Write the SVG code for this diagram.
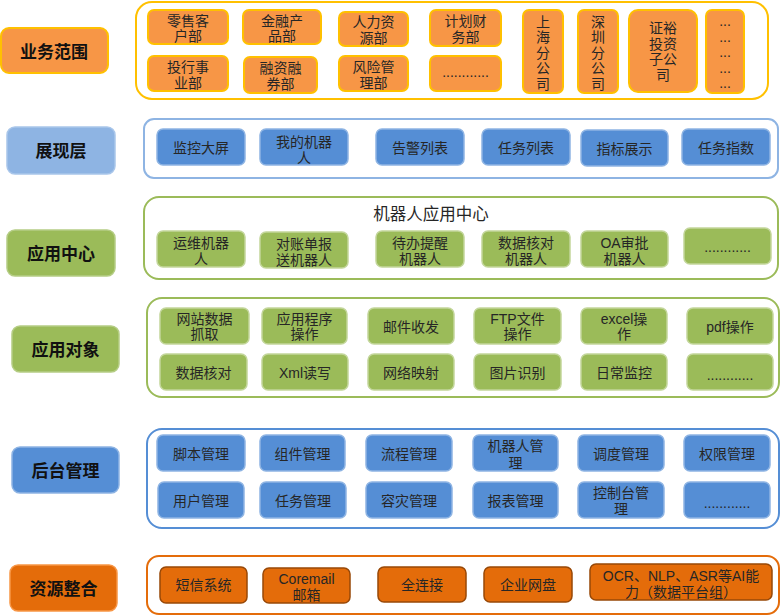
<svg xmlns="http://www.w3.org/2000/svg" width="781" height="616" viewBox="0 0 781 616">
<style>
text{font-family:"Liberation Sans","Noto Sans CJK SC",sans-serif;text-anchor:middle;dominant-baseline:central;fill:#262626;transform:translateY(1px)}
.t{font-size:14px}
.h{font-size:17px;font-weight:bold;fill:#111}
.ttl{font-size:16.5px}
.cont{fill:#fff;stroke-width:2}
.oL{fill:#F79646;stroke:#FFC000;stroke-width:2}
.oB{fill:#F79646;stroke:#FFC000;stroke-width:2}
.bL{fill:#8EB4E3;stroke:#A9C6EA;stroke-width:1.5}
.bB{fill:#558ED5;stroke:#8EB4E3;stroke-width:1.5}
.gL{fill:#9BBB59;stroke:#B5CD85;stroke-width:1.5}
.gB{fill:#9BBB59;stroke:#C3D69B;stroke-width:1.5}
.rL{fill:#E46C0A;stroke:#F79646;stroke-width:1.5}
.rB{fill:#E46C0A;stroke:#984807;stroke-width:1.5}
</style>
<g id="connectors"/>

<!-- 业务范围 -->
<g id="label-business"><rect class="oL" x="1" y="28" width="107" height="45" rx="8"/><text class="h" x="54" y="51">业务范围</text></g>
<g id="business-container"><rect class="cont" x="136" y="2" width="632" height="97" rx="16" stroke="#FFC000"/></g>
<g id="b1"><rect class="oB" x="148" y="10" width="80" height="34" rx="6"/><text class="t" x="188" y="19.5">零售客<tspan x="188" y="35">户部</tspan></text></g>
<g id="b2"><rect class="oB" x="243" y="10" width="78" height="34" rx="6"/><text class="t" x="282" y="19.5">金融产<tspan x="282" y="35">品部</tspan></text></g>
<g id="b3"><rect class="oB" x="339" y="12" width="69" height="34" rx="6"/><text class="t" x="373.5" y="21">人力资<tspan x="373.5" y="37">源部</tspan></text></g>
<g id="b4"><rect class="oB" x="430" y="10" width="71" height="36" rx="6"/><text class="t" x="465.5" y="20">计划财<tspan x="465.5" y="36">务部</tspan></text></g>
<g id="b5"><rect class="oB" x="148" y="56" width="80" height="35" rx="6"/><text class="t" x="188" y="65.5">投行事<tspan x="188" y="81.5">业部</tspan></text></g>
<g id="b6"><rect class="oB" x="244" y="57" width="73" height="36" rx="6"/><text class="t" x="280.5" y="67">融资融<tspan x="280.5" y="83">券部</tspan></text></g>
<g id="b7"><rect class="oB" x="339" y="56" width="69" height="35" rx="6"/><text class="t" x="373.5" y="65.5">风险管<tspan x="373.5" y="81.5">理部</tspan></text></g>
<g id="b8"><rect class="oB" x="430" y="56" width="71" height="35" rx="6"/><text class="t" x="465.5" y="71">............</text></g>
<g id="b9"><rect class="oB" x="523" y="10" width="40" height="83" rx="6"/><text class="t" x="543" y="20.5">上<tspan x="543" y="36">海</tspan><tspan x="543" y="51.5">分</tspan><tspan x="543" y="67">公</tspan><tspan x="543" y="82.5">司</tspan></text></g>
<g id="b10"><rect class="oB" x="578" y="10" width="40" height="83" rx="6"/><text class="t" x="598" y="20.5">深<tspan x="598" y="36">圳</tspan><tspan x="598" y="51.5">分</tspan><tspan x="598" y="67">公</tspan><tspan x="598" y="82.5">司</tspan></text></g>
<g id="b11"><rect class="oB" x="629" y="10" width="68" height="82" rx="9"/><text class="t" x="663" y="27">证裕<tspan x="663" y="42.5">投资</tspan><tspan x="663" y="58">子公</tspan><tspan x="663" y="73.5">司</tspan></text></g>
<g id="b12"><rect class="oB" x="706" y="10" width="38" height="83" rx="6"/><text class="t" x="725" y="20">...<tspan x="725" y="35.5">...</tspan><tspan x="725" y="51">...</tspan><tspan x="725" y="66.5">...</tspan><tspan x="725" y="82">...</tspan></text></g>

<!-- 展现层 -->
<g id="label-display"><rect class="bL" x="7" y="127" width="108" height="47" rx="8"/><text class="h" x="61" y="150.5">展现层</text></g>
<g id="display-container"><rect class="cont" x="144" y="119" width="634" height="59" rx="10" stroke="#8EB4E3"/></g>
<g id="d1"><rect class="bB" x="157" y="129" width="88" height="36" rx="6"/><text class="t" x="201" y="147">监控大屏</text></g>
<g id="d2"><rect class="bB" x="260" y="129" width="88" height="36" rx="6"/><text class="t" x="304" y="141">我的机器<tspan x="304" y="157">人</tspan></text></g>
<g id="d3"><rect class="bB" x="376" y="129" width="88" height="36" rx="6"/><text class="t" x="420" y="147">告警列表</text></g>
<g id="d4"><rect class="bB" x="482" y="129" width="88" height="36" rx="6"/><text class="t" x="526" y="147">任务列表</text></g>
<g id="d5"><rect class="bB" x="581" y="130" width="87" height="36" rx="6"/><text class="t" x="624.5" y="148">指标展示</text></g>
<g id="d6"><rect class="bB" x="682" y="129" width="88" height="36" rx="6"/><text class="t" x="726" y="147">任务指数</text></g>

<!-- 应用中心 -->
<g id="label-appcenter"><rect class="gL" x="7" y="230" width="108" height="46" rx="8"/><text class="h" x="61" y="253">应用中心</text></g>
<g id="appcenter-container"><rect class="cont" x="144" y="197" width="634" height="82" rx="15" stroke="#9BBB59"/><text class="ttl" x="431" y="213">机器人应用中心</text></g>
<g id="a1"><rect class="gB" x="157" y="231" width="88" height="36" rx="6"/><text class="t" x="201" y="242">运维机器<tspan x="201" y="258">人</tspan></text></g>
<g id="a2"><rect class="gB" x="260" y="232" width="88" height="36" rx="6"/><text class="t" x="304" y="243">对账单报<tspan x="304" y="259">送机器人</tspan></text></g>
<g id="a3"><rect class="gB" x="376" y="231" width="88" height="36" rx="6"/><text class="t" x="420" y="242">待办提醒<tspan x="420" y="258">机器人</tspan></text></g>
<g id="a4"><rect class="gB" x="482" y="231" width="88" height="36" rx="6"/><text class="t" x="526" y="242">数据核对<tspan x="526" y="258">机器人</tspan></text></g>
<g id="a5"><rect class="gB" x="581" y="231" width="87" height="36" rx="6"/><text class="t" x="624.5" y="242">OA审批<tspan x="624.5" y="258">机器人</tspan></text></g>
<g id="a6"><rect class="gB" x="684" y="228" width="87" height="36" rx="6"/><text class="t" x="727.5" y="246">............</text></g>

<!-- 应用对象 -->
<g id="label-appobj"><rect class="gL" x="12" y="326" width="107" height="46" rx="8"/><text class="h" x="65.5" y="349">应用对象</text></g>
<g id="appobj-container"><rect class="cont" x="147" y="298" width="632" height="99" rx="15" stroke="#9BBB59"/></g>
<g id="o1"><rect class="gB" x="160" y="308" width="89" height="36" rx="6"/><text class="t" x="204.5" y="317.5">网站数据<tspan x="204.5" y="333">抓取</tspan></text></g>
<g id="o2"><rect class="gB" x="262" y="308" width="85" height="36" rx="6"/><text class="t" x="304.5" y="317.5">应用程序<tspan x="304.5" y="333">操作</tspan></text></g>
<g id="o3"><rect class="gB" x="368" y="308" width="86" height="36" rx="6"/><text class="t" x="411" y="326">邮件收发</text></g>
<g id="o4"><rect class="gB" x="474" y="308" width="87" height="36" rx="6"/><text class="t" x="517.5" y="317.5">FTP文件<tspan x="517.5" y="333">操作</tspan></text></g>
<g id="o5"><rect class="gB" x="581" y="308" width="86" height="36" rx="6"/><text class="t" x="624" y="317.5">excel操<tspan x="624" y="333">作</tspan></text></g>
<g id="o6"><rect class="gB" x="687" y="308" width="86" height="36" rx="6"/><text class="t" x="730" y="326">pdf操作</text></g>
<g id="o7"><rect class="gB" x="160" y="354" width="87" height="36" rx="6"/><text class="t" x="203.5" y="372">数据核对</text></g>
<g id="o8"><rect class="gB" x="262" y="354" width="86" height="36" rx="6"/><text class="t" x="305" y="372">Xml读写</text></g>
<g id="o9"><rect class="gB" x="368" y="354" width="86" height="36" rx="6"/><text class="t" x="411" y="372">网络映射</text></g>
<g id="o10"><rect class="gB" x="474" y="354" width="87" height="36" rx="6"/><text class="t" x="517.5" y="372">图片识别</text></g>
<g id="o11"><rect class="gB" x="581" y="354" width="86" height="36" rx="6"/><text class="t" x="624" y="372">日常监控</text></g>
<g id="o12"><rect class="gB" x="687" y="354" width="86" height="36" rx="6"/><text class="t" x="730" y="374">............</text></g>

<!-- 后台管理 -->
<g id="label-backend"><rect class="bB" x="12" y="447" width="107" height="46" rx="8" stroke="#8EB4E3"/><text class="h" x="65.5" y="470">后台管理</text></g>
<g id="backend-container"><rect class="cont" x="147" y="429" width="632" height="99" rx="15" stroke="#558ED5"/></g>
<g id="m1"><rect class="bB" x="157" y="435" width="88" height="36" rx="6"/><text class="t" x="201" y="453">脚本管理</text></g>
<g id="m2"><rect class="bB" x="260" y="435" width="85" height="36" rx="6"/><text class="t" x="302.5" y="453">组件管理</text></g>
<g id="m3"><rect class="bB" x="366" y="435" width="86" height="36" rx="6"/><text class="t" x="409" y="453">流程管理</text></g>
<g id="m4"><rect class="bB" x="473" y="435" width="85" height="36" rx="6"/><text class="t" x="515.5" y="445">机器人管<tspan x="515.5" y="461.5">理</tspan></text></g>
<g id="m5"><rect class="bB" x="578" y="435" width="86" height="36" rx="6"/><text class="t" x="621" y="453">调度管理</text></g>
<g id="m6"><rect class="bB" x="684" y="435" width="86" height="36" rx="6"/><text class="t" x="727" y="453">权限管理</text></g>
<g id="m7"><rect class="bB" x="158" y="482" width="86" height="36" rx="6"/><text class="t" x="201" y="500">用户管理</text></g>
<g id="m8"><rect class="bB" x="260" y="482" width="86" height="36" rx="6"/><text class="t" x="303" y="500">任务管理</text></g>
<g id="m9"><rect class="bB" x="366" y="482" width="86" height="36" rx="6"/><text class="t" x="409" y="500">容灾管理</text></g>
<g id="m10"><rect class="bB" x="473" y="482" width="85" height="36" rx="6"/><text class="t" x="515.5" y="500">报表管理</text></g>
<g id="m11"><rect class="bB" x="578" y="482" width="86" height="36" rx="6"/><text class="t" x="621" y="492">控制台管<tspan x="621" y="507.5">理</tspan></text></g>
<g id="m12"><rect class="bB" x="684" y="482" width="86" height="36" rx="6"/><text class="t" x="727" y="502">............</text></g>

<!-- 资源整合 -->
<g id="label-resource"><rect class="rL" x="10" y="565" width="107" height="46" rx="8"/><text class="h" x="63.5" y="588">资源整合</text></g>
<g id="resource-container"><rect class="cont" x="147" y="556" width="632" height="58" rx="12" stroke="#E46C0A"/></g>
<g id="r1"><rect class="rB" x="160" y="567" width="87" height="36" rx="6"/><text class="t" x="203.5" y="584">短信系统</text></g>
<g id="r2"><rect class="rB" x="263" y="568" width="87" height="35" rx="6"/><text class="t" x="306.5" y="577.5">Coremail<tspan x="306.5" y="593.5">邮箱</tspan></text></g>
<g id="r3"><rect class="rB" x="378" y="567" width="88" height="35" rx="6"/><text class="t" x="422" y="584">全连接</text></g>
<g id="r4"><rect class="rB" x="484" y="567" width="88" height="35" rx="6"/><text class="t" x="528" y="584">企业网盘</text></g>
<g id="r5"><rect class="rB" x="590" y="564" width="182" height="36" rx="6"/><text class="t" x="681" y="575">OCR、NLP、ASR等AI能<tspan x="681" y="591">力（数据平台组）</tspan></text></g>
</svg>
